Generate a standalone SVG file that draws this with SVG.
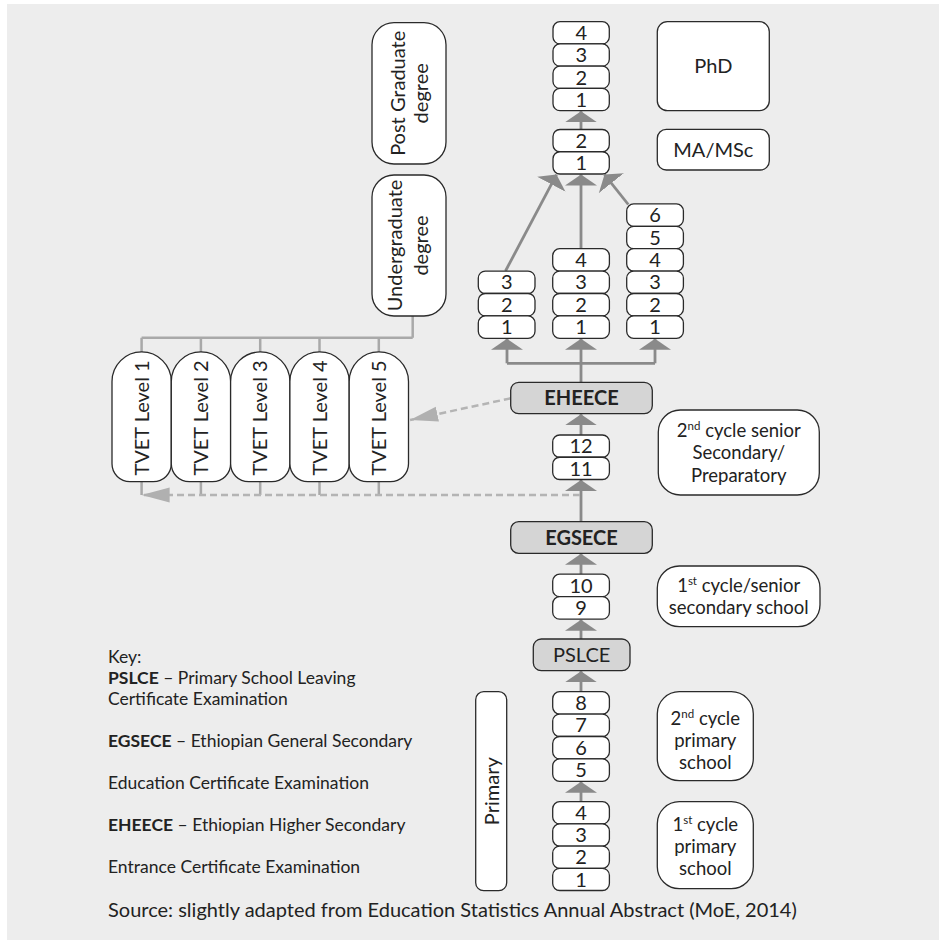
<svg xmlns="http://www.w3.org/2000/svg" width="939" height="940" viewBox="0 0 939 940">
<style>
text{font-family:Lato,"Open Sans","Liberation Sans",sans-serif;fill:#222;font-size:20px}
.c{text-anchor:middle}
.k{font-size:17.5px}
.l{font-size:18.5px}
.b{font-weight:bold}
.box{fill:#fff;stroke:#2a2a2a;stroke-width:1.3}
.exam{fill:#d5d5d5;stroke:#2a2a2a;stroke-width:1.3}
.arr{stroke:#8a8a8a;stroke-width:2.8;fill:none}
.thin{stroke:#a9a9a9;stroke-width:2.5;fill:none}
.dash{stroke:#b4b4b4;stroke-width:2.5;fill:none;stroke-dasharray:7 4}
</style>
<defs>
<marker id="ah" markerUnits="userSpaceOnUse" markerWidth="12" markerHeight="34" refX="11" refY="17" orient="auto"><path d="M0,1 L11,17 L0,33 Z" fill="#8a8a8a"/></marker>
<marker id="dh" markerUnits="userSpaceOnUse" markerWidth="30" markerHeight="16" refX="28" refY="8" orient="auto"><path d="M0,0.5 L28,8 L0,15.5 Z" fill="#b0b0b0"/></marker>
</defs>
<rect x="0" y="0" width="939" height="940" fill="#fff"/>
<rect x="7" y="4" width="932" height="936" fill="#ededed"/>

<g id="connectors">
<line class="arr" x1="581" y1="129.5" x2="581" y2="111.2" marker-end="url(#ah)"/>
<line class="arr" x1="581" y1="248.7" x2="581" y2="174.6" marker-end="url(#ah)"/>
<line class="arr" x1="505.5" y1="271" x2="556.5" y2="174.6" marker-end="url(#ah)"/>
<line class="arr" x1="628.3" y1="204.5" x2="604.5" y2="174.6" marker-end="url(#ah)"/>
<line class="arr" x1="581" y1="382.3" x2="581" y2="338.8" marker-end="url(#ah)"/>
<path class="arr" d="M507,363.3 H655"/>
<line class="arr" x1="507" y1="363.3" x2="507" y2="338.8" marker-end="url(#ah)"/>
<line class="arr" x1="655" y1="363.3" x2="655" y2="338.8" marker-end="url(#ah)"/>
<line class="arr" x1="581" y1="435" x2="581" y2="414.2" marker-end="url(#ah)"/>
<line class="arr" x1="581" y1="521.7" x2="581" y2="480" marker-end="url(#ah)"/>
<line class="arr" x1="581" y1="574.2" x2="581" y2="553.8" marker-end="url(#ah)"/>
<line class="arr" x1="581" y1="639" x2="581" y2="619.7" marker-end="url(#ah)"/>
<line class="arr" x1="581" y1="691.7" x2="581" y2="671.2" marker-end="url(#ah)"/>
<line class="arr" x1="581" y1="801.7" x2="581" y2="781.8" marker-end="url(#ah)"/>
<path class="thin" d="M412.7,316 V337.7 M141.6,337.7 H412.7 M141.6,337.7 V352 M200.9,337.7 V352 M260.2,337.7 V352 M319.5,337.7 V352 M378.8,337.7 V352"/>
<path class="thin" d="M141.6,481.7 V495 M200.9,481.7 V495 M260.2,481.7 V495 M319.5,481.7 V495 M378.8,481.7 V495"/>
<path class="dash" d="M510.7,398.3 L410,420" marker-end="url(#dh)"/>
<path class="dash" d="M580,495 L141.6,495" marker-end="url(#dh)"/>
</g>

<g id="phd-years">
<rect class="box" x="553" y="21.7" width="56.3" height="22.25" rx="7"/>
<rect class="box" x="553" y="43.95" width="56.3" height="22.25" rx="7"/>
<rect class="box" x="553" y="66.2" width="56.3" height="22.25" rx="7"/>
<rect class="box" x="553" y="88.45" width="56.3" height="22.25" rx="7"/>
<text class="c" x="581.2" y="40">4</text>
<text class="c" x="581.2" y="62.2">3</text>
<text class="c" x="581.2" y="84.5">2</text>
<text class="c" x="581.2" y="106.7">1</text>
</g>
<g id="ma-years">
<rect class="box" x="553" y="129.5" width="56.3" height="22.25" rx="7"/>
<rect class="box" x="553" y="151.75" width="56.3" height="22.25" rx="7"/>
<text class="c" x="581.2" y="147.8">2</text>
<text class="c" x="581.2" y="170">1</text>
</g>
<g id="phd"><rect class="box" x="657.3" y="21.7" width="112" height="89" rx="10"/><text class="c" x="713.3" y="73">PhD</text></g>
<g id="mamsc"><rect class="box" x="657.3" y="129.3" width="112" height="40.7" rx="9"/><text class="c" x="713.3" y="157">MA/MSc</text></g>
<g id="postgrad"><rect class="box" x="372" y="22.7" width="74" height="141.3" rx="22"/>
<text class="c" transform="translate(404.5,93.3) rotate(-90)"><tspan x="0" y="0">Post Graduate</tspan><tspan x="0" y="23.5">degree</tspan></text></g>
<g id="undergrad"><rect class="box" x="372" y="175" width="74" height="141" rx="22"/>
<text class="c" transform="translate(401.5,245.5) rotate(-90)"><tspan x="0" y="0">Undergraduate</tspan><tspan x="0" y="26.5">degree</tspan></text></g>

<g id="stack3">
<rect class="box" x="478.3" y="271.1" width="56.7" height="22.4" rx="7"/>
<rect class="box" x="478.3" y="293.5" width="56.7" height="22.4" rx="7"/>
<rect class="box" x="478.3" y="315.9" width="56.7" height="22.4" rx="7"/>
<text class="c" x="506.7" y="289.4">3</text>
<text class="c" x="506.7" y="311.8">2</text>
<text class="c" x="506.7" y="334.2">1</text>
</g>
<g id="stack4">
<rect class="box" x="552.7" y="248.7" width="56.7" height="22.4" rx="7"/>
<rect class="box" x="552.7" y="271.1" width="56.7" height="22.4" rx="7"/>
<rect class="box" x="552.7" y="293.5" width="56.7" height="22.4" rx="7"/>
<rect class="box" x="552.7" y="315.9" width="56.7" height="22.4" rx="7"/>
<text class="c" x="581" y="267">4</text>
<text class="c" x="581" y="289.4">3</text>
<text class="c" x="581" y="311.8">2</text>
<text class="c" x="581" y="334.2">1</text>
</g>
<g id="stack6">
<rect class="box" x="626.7" y="203.9" width="56.7" height="22.4" rx="7"/>
<rect class="box" x="626.7" y="226.3" width="56.7" height="22.4" rx="7"/>
<rect class="box" x="626.7" y="248.7" width="56.7" height="22.4" rx="7"/>
<rect class="box" x="626.7" y="271.1" width="56.7" height="22.4" rx="7"/>
<rect class="box" x="626.7" y="293.5" width="56.7" height="22.4" rx="7"/>
<rect class="box" x="626.7" y="315.9" width="56.7" height="22.4" rx="7"/>
<text class="c" x="655" y="222.2">6</text>
<text class="c" x="655" y="244.6">5</text>
<text class="c" x="655" y="267">4</text>
<text class="c" x="655" y="289.4">3</text>
<text class="c" x="655" y="311.8">2</text>
<text class="c" x="655" y="334.2">1</text>
</g>

<g id="tvet1"><path class="box" d="M112,381.6 A29.65,29.65 0 0 1 171.3,381.6 V463.7 A18,18 0 0 1 153.3,481.7 H130 A18,18 0 0 1 112,463.7 Z"/><text class="c" font-size="19" transform="translate(148.6,418) rotate(-90)">TVET Level 1</text></g>
<g id="tvet2"><path class="box" d="M171.3,381.6 A29.65,29.65 0 0 1 230.6,381.6 V463.7 A18,18 0 0 1 212.6,481.7 H189.3 A18,18 0 0 1 171.3,463.7 Z"/><text class="c" font-size="19" transform="translate(207.9,418) rotate(-90)">TVET Level 2</text></g>
<g id="tvet3"><path class="box" d="M230.6,381.6 A29.65,29.65 0 0 1 289.9,381.6 V463.7 A18,18 0 0 1 271.9,481.7 H248.6 A18,18 0 0 1 230.6,463.7 Z"/><text class="c" font-size="19" transform="translate(267.2,418) rotate(-90)">TVET Level 3</text></g>
<g id="tvet4"><path class="box" d="M289.9,381.6 A29.65,29.65 0 0 1 349.2,381.6 V463.7 A18,18 0 0 1 331.2,481.7 H307.9 A18,18 0 0 1 289.9,463.7 Z"/><text class="c" font-size="19" transform="translate(326.5,418) rotate(-90)">TVET Level 4</text></g>
<g id="tvet5"><path class="box" d="M349.2,381.6 A29.65,29.65 0 0 1 408.5,381.6 V463.7 A18,18 0 0 1 390.5,481.7 H367.2 A18,18 0 0 1 349.2,463.7 Z"/><text class="c" font-size="19" transform="translate(385.8,418) rotate(-90)">TVET Level 5</text></g>

<g id="eheece"><rect class="exam" x="510.7" y="382.3" width="141.6" height="31.4" rx="8"/><text class="c b" x="581.5" y="405">EHEECE</text></g>
<g id="grade11-12">
<rect class="box" x="552.7" y="435" width="56.7" height="22.25" rx="7"/>
<rect class="box" x="552.7" y="457.25" width="56.7" height="22.25" rx="7"/>
<text class="c" x="581" y="453.2">12</text>
<text class="c" x="581" y="475.5">11</text>
</g>
<g id="senior2"><rect class="box" x="658.3" y="410" width="161" height="85" rx="22"/>
<text class="c l" x="738.8" y="437">2<tspan font-size="11.5" dy="-7">nd</tspan><tspan dy="7"> cycle senior</tspan></text>
<text class="c l" x="738.8" y="459.4">Secondary/</text>
<text class="c l" x="738.8" y="481.8">Preparatory</text></g>
<g id="egsece"><rect class="exam" x="510.7" y="521.7" width="141.6" height="31.6" rx="8"/><text class="c b" x="581.5" y="544.5">EGSECE</text></g>
<g id="grade9-10">
<rect class="box" x="552.7" y="574.2" width="56.7" height="22.5" rx="7"/>
<rect class="box" x="552.7" y="596.7" width="56.7" height="22.5" rx="7"/>
<text class="c" x="581" y="592.5">10</text>
<text class="c" x="581" y="615">9</text>
</g>
<g id="senior1"><rect class="box" x="657.3" y="566" width="162.7" height="60.7" rx="22"/>
<text class="c l" x="738.7" y="591.8">1<tspan font-size="11.5" dy="-7">st</tspan><tspan dy="7"> cycle/senior</tspan></text>
<text class="c l" x="738.7" y="614.2">secondary school</text></g>
<g id="pslce"><rect class="exam" x="533.3" y="639" width="96.7" height="31.7" rx="8"/><text class="c" x="581.7" y="662">PSLCE</text></g>
<g id="grade5-8">
<rect class="box" x="552.7" y="691.7" width="56.7" height="22.4" rx="7"/>
<rect class="box" x="552.7" y="714.1" width="56.7" height="22.4" rx="7"/>
<rect class="box" x="552.7" y="736.5" width="56.7" height="22.4" rx="7"/>
<rect class="box" x="552.7" y="758.9" width="56.7" height="22.4" rx="7"/>
<text class="c" x="581" y="710">8</text>
<text class="c" x="581" y="732.4">7</text>
<text class="c" x="581" y="754.8">6</text>
<text class="c" x="581" y="777.2">5</text>
</g>
<g id="primary2"><rect class="box" x="657.3" y="691.7" width="96" height="89" rx="22"/>
<text class="c l" x="705.3" y="724.5">2<tspan font-size="11.5" dy="-7">nd</tspan><tspan dy="7"> cycle</tspan></text>
<text class="c l" x="705.3" y="746.9">primary</text>
<text class="c l" x="705.3" y="769.3">school</text></g>
<g id="grade1-4">
<rect class="box" x="552.7" y="801.7" width="56.7" height="22.2" rx="7"/>
<rect class="box" x="552.7" y="823.9" width="56.7" height="22.2" rx="7"/>
<rect class="box" x="552.7" y="846.1" width="56.7" height="22.2" rx="7"/>
<rect class="box" x="552.7" y="868.3" width="56.7" height="22.2" rx="7"/>
<text class="c" x="581" y="820">4</text>
<text class="c" x="581" y="842.2">3</text>
<text class="c" x="581" y="864.4">2</text>
<text class="c" x="581" y="886.6">1</text>
</g>
<g id="primary1"><rect class="box" x="657.3" y="801.7" width="96" height="87" rx="22"/>
<text class="c l" x="705.3" y="830.5">1<tspan font-size="11.5" dy="-7">st</tspan><tspan dy="7"> cycle</tspan></text>
<text class="c l" x="705.3" y="852.9">primary</text>
<text class="c l" x="705.3" y="875.3">school</text></g>
<g id="primary"><rect class="box" x="475.7" y="691.7" width="31" height="199" rx="8"/>
<text class="c" transform="translate(498.5,791.2) rotate(-90)">Primary</text></g>

<g id="key">
<text class="k" x="108" y="663">Key:</text>
<text class="k" x="108" y="684.2"><tspan class="b">PSLCE</tspan> – Primary School Leaving</text>
<text class="k" x="108" y="705.4">Certificate Examination</text>
<text class="k" x="108" y="747"><tspan class="b">EGSECE</tspan> – Ethiopian General Secondary</text>
<text class="k" x="108" y="789">Education Certificate Examination</text>
<text class="k" x="108" y="831"><tspan class="b">EHEECE</tspan> – Ethiopian Higher Secondary</text>
<text class="k" x="108" y="873">Entrance Certificate Examination</text>
</g>
<text id="source" x="108" y="917" font-size="16">Source: slightly adapted from Education Statistics Annual Abstract (MoE, 2014)</text>
</svg>
